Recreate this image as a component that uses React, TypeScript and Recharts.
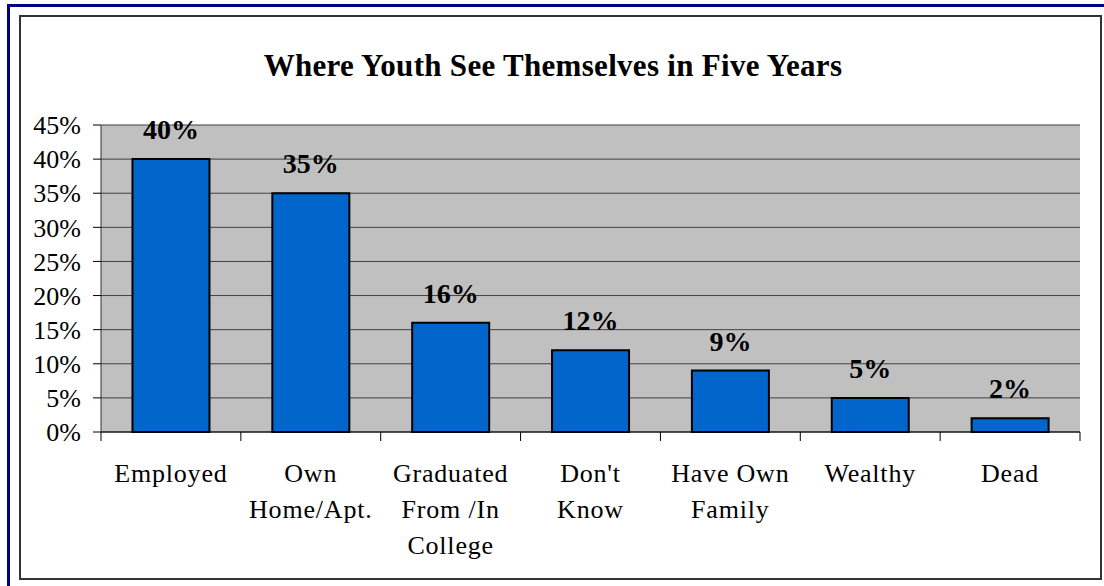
import React from 'react';
import { BarChart, Bar, XAxis, YAxis, CartesianGrid, LabelList } from 'recharts';

const categories = [
  ['Employed'],
  ['Own', 'Home/Apt.'],
  ['Graduated', 'From /In', 'College'],
  ["Don't", 'Know'],
  ['Have Own', 'Family'],
  ['Wealthy'],
  ['Dead'],
];
const shares = [40, 35, 16, 12, 9, 5, 2];
const yTicks = [0, 5, 10, 15, 20, 25, 30, 35, 40, 45];

const data = categories.map((lines, i) => ({ name: lines.join(' '), lines, value: shares[i] }));

const W = 1104;
const H = 586;
const PLOT_LEFT = 101;
const PLOT_RIGHT = 1080;
const BAND = (PLOT_RIGHT - PLOT_LEFT) / categories.length;
const FONT = '"Liberation Serif", "Times New Roman", serif';

function CategoryTick(props: any) {
  const { x, y, index, payload } = props;
  const lines: string[] = data[index]?.lines ?? [String(payload.value)];
  const left = x - BAND / 2;
  return (
    <g>
      <line x1={left} y1={y} x2={left} y2={y + 9} stroke="#000" strokeWidth={1} />
      {index === categories.length - 1 && (
        <line x1={left + BAND} y1={y} x2={left + BAND} y2={y + 9} stroke="#000" strokeWidth={1} />
      )}
      <text x={x} y={y + 50} textAnchor="middle" fill="#000" fontFamily={FONT} fontSize={26} letterSpacing={0.8}>
        {lines.map((l, i) => (
          <tspan key={i} x={x} dy={i === 0 ? 0 : 36}>{l}</tspan>
        ))}
      </text>
    </g>
  );
}

export default function App() {
  return (
    <div style={{ position: 'absolute', left: 0, top: 0, width: W, height: H, background: '#fff', overflow: 'hidden' }}>
      <div style={{ position: 'absolute', left: 7, top: 4, width: 3, height: H - 4, background: '#000080' }} />
      <div style={{ position: 'absolute', left: 7, top: 4, width: W - 7, height: 3, background: '#000080' }} />
      <div style={{ position: 'absolute', left: 19, top: 15, width: 1083, height: 565, border: '2px solid #333', boxSizing: 'border-box' }} />
      <div style={{
        position: 'absolute', left: 20, width: 1066, top: 48, textAlign: 'center',
        fontFamily: FONT, fontWeight: 'bold', fontSize: 31, color: '#000', letterSpacing: 0.3,
      }}>
        Where Youth See Themselves in Five Years
      </div>
      <div style={{ position: 'absolute', left: 0, top: 0 }}>
        <BarChart
          width={W}
          height={H}
          data={data}
          margin={{ top: 125, right: W - PLOT_RIGHT, bottom: 14, left: 0 }}
          barCategoryGap="22.5%"
        >
          <CartesianGrid vertical={false} fill="#C0C0C0" stroke="#404040" strokeWidth={1} />
          <XAxis
            dataKey="name"
            interval={0}
            height={140}
            tickLine={false}
            tickSize={0}
            tickMargin={0}
            axisLine={{ stroke: '#000', strokeWidth: 1 }}
            tick={<CategoryTick />}
          />
          <YAxis
            width={PLOT_LEFT}
            domain={[0, 45]}
            ticks={yTicks}
            interval={0}
            tickSize={8}
            tickMargin={12}
            tickFormatter={(v: number) => `${v}%`}
            tick={{ fill: '#000', fontFamily: FONT, fontSize: 26 }}
            axisLine={{ stroke: '#333' }}
            tickLine={{ stroke: '#000' }}
          />
          <YAxis
            yAxisId="frame"
            orientation="right"
            width={0}
            domain={[0, 45]}
            tick={false}
            tickLine={false}
            axisLine={{ stroke: '#808080' }}
          />
          <Bar dataKey="value" fill="#0066CC" stroke="#000" strokeWidth={2} isAnimationActive={false}>
            <LabelList
              dataKey="value"
              position="top"
              offset={20}
              formatter={(v: any) => `${v}%`}
              style={{ fill: '#000', fontFamily: FONT, fontSize: 28, fontWeight: 'bold' }}
            />
          </Bar>
        </BarChart>
      </div>
    </div>
  );
}
